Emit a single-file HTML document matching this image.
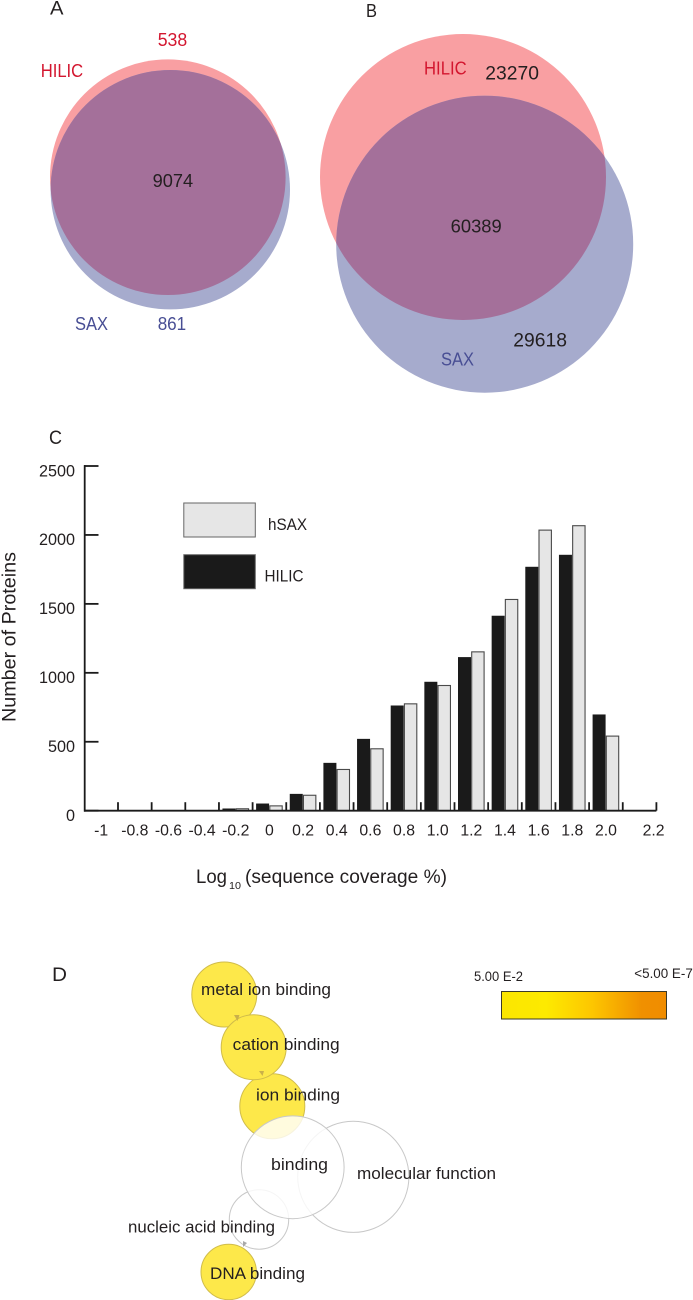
<!DOCTYPE html>
<html lang="en">
<head>
<meta charset="utf-8">
<title>HILIC and SAX comparison figure</title>
<style>
html,body{margin:0;padding:0;background:#fff;width:693px;height:1300px;overflow:hidden}
svg{display:block}
text{font-family:"Liberation Sans",sans-serif;fill:#231f20}
.r{fill:#d3162f}.b{fill:#484e94}
</style>
</head>
<body>
<svg id="figure" width="693" height="1300" viewBox="0 0 693 1300" xmlns="http://www.w3.org/2000/svg">
<defs>
<clipPath id="clipA"><circle cx="167.8" cy="177.2" r="117.8"/></clipPath>
<clipPath id="clipB"><circle cx="463" cy="177" r="143"/></clipPath>
<linearGradient id="heat" x1="0" x2="1" y1="0" y2="0">
<stop offset="0" stop-color="#fbe600"/><stop offset=".27" stop-color="#fdea00"/><stop offset=".55" stop-color="#fdc600"/><stop offset=".85" stop-color="#f09000"/><stop offset="1" stop-color="#f08c00"/>
</linearGradient>
</defs>

<g>
<text x="50" y="14.5" font-size="19" textLength="13.5" lengthAdjust="spacingAndGlyphs">A</text>
<circle cx="167.8" cy="177.2" r="117.8" fill="#f99fa2"/>
<circle cx="170.3" cy="189.7" r="119.7" fill="#a6abcd"/>
<circle cx="170.3" cy="189.7" r="119.7" fill="#a4709a" clip-path="url(#clipA)"/>
<text class="r" x="157.7" y="46" font-size="18" textLength="29.5" lengthAdjust="spacingAndGlyphs">538</text>
<text class="r" x="40.7" y="77" font-size="18" textLength="42.5" lengthAdjust="spacingAndGlyphs">HILIC</text>
<text x="152.7" y="187" font-size="18" textLength="40.5" lengthAdjust="spacingAndGlyphs">9074</text>
<text class="b" x="75" y="330" font-size="18" textLength="33" lengthAdjust="spacingAndGlyphs">SAX</text>
<text class="b" x="157.7" y="330" font-size="18" textLength="28.5" lengthAdjust="spacingAndGlyphs">861</text>
</g>

<g>
<text x="366" y="17" font-size="18" textLength="11" lengthAdjust="spacingAndGlyphs">B</text>
<circle cx="463" cy="177" r="143" fill="#f99fa2"/>
<circle cx="484.7" cy="244.2" r="148.5" fill="#a6abcd"/>
<circle cx="484.7" cy="244.2" r="148.5" fill="#a4709a" clip-path="url(#clipB)"/>
<text class="r" x="424" y="74.7" font-size="18" textLength="42.7" lengthAdjust="spacingAndGlyphs">HILIC</text>
<text x="485.3" y="79.3" font-size="19" textLength="53.7" lengthAdjust="spacingAndGlyphs">23270</text>
<text x="450.7" y="232.3" font-size="18" textLength="51" lengthAdjust="spacingAndGlyphs">60389</text>
<text x="513.3" y="346.7" font-size="19" textLength="53.7" lengthAdjust="spacingAndGlyphs">29618</text>
<text class="b" x="441" y="365.7" font-size="18" textLength="33" lengthAdjust="spacingAndGlyphs">SAX</text>
</g>

<g id="chart">
<text x="49" y="444" font-size="19" textLength="13" lengthAdjust="spacingAndGlyphs">C</text>
<text transform="translate(15.7,722) rotate(-90)" font-size="19.5" textLength="170" lengthAdjust="spacingAndGlyphs">Number of Proteins</text>
<g>
<text x="196" y="883" font-size="19.5" textLength="31" lengthAdjust="spacingAndGlyphs">Log</text>
<text x="229" y="889" font-size="10.5" textLength="12" lengthAdjust="spacingAndGlyphs">10</text>
<text x="245" y="883" font-size="19.5" textLength="202" lengthAdjust="spacingAndGlyphs">(sequence coverage %)</text>
</g>
<g>
<rect x="183.8" y="503" width="71.5" height="34" fill="#e6e6e6" stroke="#666" stroke-width="1"/>
<text x="268" y="530" font-size="16.5" textLength="39" lengthAdjust="spacingAndGlyphs">hSAX</text>
<rect x="183.8" y="554.7" width="71.5" height="34" fill="#1a1a1a" stroke="#666" stroke-width="1"/>
<text x="264.5" y="581.7" font-size="16.5" textLength="39" lengthAdjust="spacingAndGlyphs">HILIC</text>
</g>
</g>

<g>
<text x="52" y="981" font-size="19" textLength="15" lengthAdjust="spacingAndGlyphs">D</text>
<circle cx="353.3" cy="1176.8" r="55.6" fill="#fff" stroke="#c8c8c8" stroke-width="1"/>
<circle cx="259" cy="1219.5" r="29.7" fill="#fff" stroke="#c8c8c8" stroke-width="1"/>
<circle cx="272.3" cy="1106.3" r="32.5" fill="#fde84a" stroke="#d0bc4a" stroke-width="1"/>
<circle cx="224.3" cy="994.5" r="32.5" fill="#fde84a" stroke="#d0bc4a" stroke-width="1"/>
<circle cx="253.7" cy="1047.2" r="32.5" fill="#fde84a" stroke="#d0bc4a" stroke-width="1"/>
<circle cx="292.7" cy="1167.3" r="51.4" fill="#fff" fill-opacity=".82" stroke="#c8c8c8" stroke-width="1"/>
<circle cx="228.7" cy="1272" r="27.7" fill="#fde84a" stroke="#d0bc4a" stroke-width="1"/>
<polygon points="234,1015 239.5,1015 237.5,1021" fill="#c9b04a"/>
<polygon points="259,1071 264,1071 262.5,1076" fill="#c9b04a"/>
<polygon points="243,1241 247,1243 243,1247" fill="#a8a8a8"/>
<text x="201" y="995" font-size="17" textLength="130" lengthAdjust="spacingAndGlyphs">metal ion binding</text>
<text x="232.7" y="1050" font-size="17" textLength="107" lengthAdjust="spacingAndGlyphs">cation binding</text>
<text x="256" y="1100.5" font-size="17" textLength="84" lengthAdjust="spacingAndGlyphs">ion binding</text>
<text x="271" y="1170" font-size="17" textLength="57" lengthAdjust="spacingAndGlyphs">binding</text>
<text x="357" y="1179" font-size="17" textLength="139" lengthAdjust="spacingAndGlyphs">molecular function</text>
<text x="128" y="1232.5" font-size="17" textLength="147" lengthAdjust="spacingAndGlyphs">nucleic acid binding</text>
<text x="210" y="1279" font-size="17" textLength="95" lengthAdjust="spacingAndGlyphs">DNA binding</text>
<rect x="501.5" y="991.5" width="165" height="27.5" fill="url(#heat)" stroke="#3a3a2a" stroke-width="1"/>
<text x="474" y="981" font-size="13.5" textLength="49" lengthAdjust="spacingAndGlyphs">5.00 E-2</text>
<text x="634.3" y="978" font-size="13.5" textLength="58.5" lengthAdjust="spacingAndGlyphs">&lt;5.00 E-7</text>
</g>
</svg>
<script>
const xCategories = ['-1','-0.8','-0.6','-0.4','-0.2','0','0.2','0.4','0.6','0.8','1.0','1.2','1.4','1.6','1.8','2.0','2.2'];
const hilicCounts = [0,0,0,0,16,52,122,347,521,763,935,1114,1414,1769,1856,698,0];
const hsaxCounts = [0,0,0,0,14,35,112,299,449,775,908,1152,1532,2035,2067,541,0];
const yTickValues = [0,500,1000,1500,2000,2500];

const NS = 'http://www.w3.org/2000/svg';
const chart = document.getElementById('chart');
const X0 = 84.35, BAND = 33.65, Y0 = 810.7, PX_PER_UNIT = 344.7 / 2500;
function xBand(i) { return X0 + i * BAND; }
function yScale(v) { return Y0 - v * PX_PER_UNIT; }
function add(tag, attrs, parent) {
  const el = document.createElementNS(NS, tag);
  for (const k in attrs) el.setAttribute(k, attrs[k]);
  (parent || chart).appendChild(el);
  return el;
}

xCategories.forEach(function (cat, i) {
  if (hilicCounts[i] > 0) {
    const b = add('rect', { x: xBand(i) + 3.5, y: yScale(hilicCounts[i]), width: 13, height: Y0 - yScale(hilicCounts[i]), fill: '#1a1a1a' });
    
    
  }
  if (hsaxCounts[i] > 0) {
    const b = add('rect', { x: xBand(i) + 17.2, y: yScale(hsaxCounts[i]), width: 12.4, height: Y0 - yScale(hsaxCounts[i]), fill: '#e6e6e6', stroke: '#4a4a4a', 'stroke-width': 1.1 });
    
    
  }
  const labelX = xBand(i) + BAND / 2 + (i === xCategories.length - 1 ? 14 : 0);
  const t = add('text', { x: labelX, y: 835.5, 'font-size': 15.8, 'text-anchor': 'middle' });
  t.textContent = cat;
  
  
  const tick = add('line', { x1: xBand(i + 1), x2: xBand(i + 1), y1: Y0 - 8.5, y2: Y0, stroke: '#1a1a1a', 'stroke-width': 1.8 });
  
  
});

yTickValues.forEach(function (v) {
  const tick = add('line', { x1: 84, x2: 98.5, y1: yScale(v), y2: yScale(v), stroke: '#1a1a1a', 'stroke-width': 1.8 });
  
  
  const t = add('text', { x: 75, y: yScale(v) + 10.3, 'font-size': 16.2, 'text-anchor': 'end' });
  t.textContent = String(v);
  
  
});

const yAxis = add('line', { x1: 84.7, x2: 84.7, y1: yScale(2500) - 0.9, y2: Y0 + 0.9, stroke: '#1a1a1a', 'stroke-width': 1.8 });


const xAxis = add('line', { x1: 84, x2: xBand(xCategories.length), y1: Y0, y2: Y0, stroke: '#1a1a1a', 'stroke-width': 1.8 });


</script>
</body>
</html>
